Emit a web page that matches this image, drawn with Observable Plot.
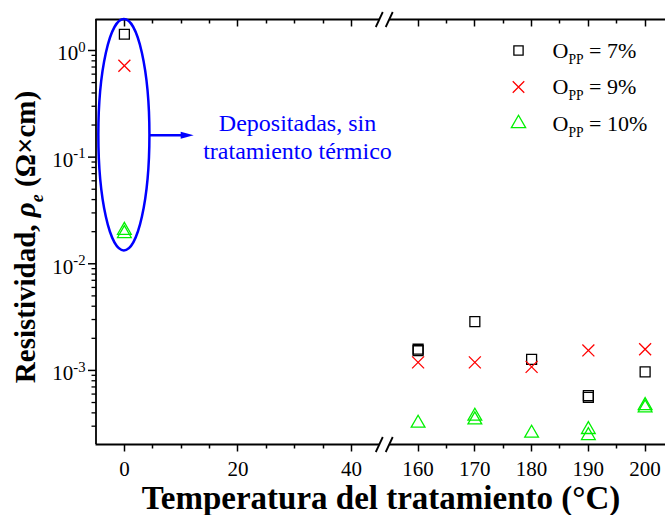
<!DOCTYPE html>
<html><head><meta charset="utf-8">
<script src="https://cdn.jsdelivr.net/npm/d3@7"></script>
<script src="https://cdn.jsdelivr.net/npm/@observablehq/plot@0.6"></script>
<style>body{margin:0;background:#fff;}</style>
</head><body><div id="chart"></div>
<script>
// ---- data ----
const xSquare = [0, 160, 160, 170, 180, 190, 190, 200];
const ySquare = [1.42, 1.58e-3, 1.53e-3, 2.87e-3, 1.27e-3, 5.8e-4, 5.6e-4, 9.7e-4];
const xCross = [0, 160, 170, 180, 190, 200];
const yCross = [0.72, 1.19e-3, 1.19e-3, 1.08e-3, 1.54e-3, 1.58e-3];
const xTri = [0, 0, 160, 170, 170, 180, 190, 190, 200, 200];
const yTri = [0.0206, 0.0192, 3.2e-4, 3.72e-4, 3.44e-4, 2.58e-4, 2.79e-4, 2.45e-4, 4.68e-4, 4.46e-4];

const seriesNames = ["O[[sub|PP]] = 7%", "O[[sub|PP]] = 9%", "O[[sub|PP]] = 10%"];
const seriesSymbols = ["square", "times", "triangle"];
const seriesColors = ["#000000", "#ff0000", "#00f000"];

const tempTicks = [0, 20, 40, 160, 170, 180, 190, 200];
const tempMinor = [5, 10, 15, 25, 30, 35, 165, 175, 185, 195];
const rhoTicks = [1e-3, 1e-2, 1e-1, 1];
const rhoTickLabels = ["10[[sup|-3]]", "10[[sup|-2]]", "10[[sup|-1]]", "10[[sup|0]]"];
const rhoMinor = [3e-4,4e-4,5e-4,6e-4,7e-4,8e-4,9e-4,
  2e-3,3e-3,4e-3,5e-3,6e-3,7e-3,8e-3,9e-3,
  2e-2,3e-2,4e-2,5e-2,6e-2,7e-2,8e-2,9e-2,
  2e-1,3e-1,4e-1,5e-1,6e-1,7e-1,8e-1,9e-1];

// broken x axis: segment [-5, 45] then [155, 205]
const segments = [[-5, 45], [155, 205]];
const breakShift = 108.25; // the right segment is slid left so the gap is ~10px
const breakT = (v) => (v >= 100 ? v - breakShift : v);
const yDomain = [2.02e-4, 1.953];

// annotation (data units)
const ellipseX = [-4.5, 4.5];
const ellipseY = [0.0132, 1.95];
const arrowX = [4.5, 12.3];
const arrowY = 0.159;
const noteX = 30.5;
const noteText = "Depositadas, sin\ntratamiento térmico";

const xLabel = "Temperatura del tratamiento (°C)";
const yLabel = "Resistividad, [[i|ρ]][[isub|e]] (Ω×cm)";

const toRows = (xs, ys) => xs.map((x, i) => ({x, y: ys[i]}));
const squares = toRows(xSquare, ySquare);
const crosses = toRows(xCross, yCross);
const tris = toRows(xTri, yTri);

const SVGNS = "http://www.w3.org/2000/svg";
function el(name, attrs) {
  const e = document.createElementNS(SVGNS, name);
  for (const k in attrs) e.setAttribute(k, attrs[k]);
  return e;
}

const annotationMark = (index, scales) => {
  const x = (v) => scales.x(breakT(v)), y = scales.y;
  const g = el("g", {});
  const cx = (x(ellipseX[0]) + x(ellipseX[1])) / 2;
  const cy = (y(ellipseY[0]) + y(ellipseY[1])) / 2;
  g.appendChild(el("ellipse", {cx, cy, rx: (x(ellipseX[1]) - x(ellipseX[0])) / 2,
    ry: (y(ellipseY[0]) - y(ellipseY[1])) / 2, fill: "none", stroke: "#0000ff", "stroke-width": 2.5}));
  const ay = y(arrowY), ax1 = x(arrowX[0]), ax2 = x(arrowX[1]);
  g.appendChild(el("line", {x1: ax1, y1: ay, x2: ax2 - 10, y2: ay, stroke: "#0000ff", "stroke-width": 2.5}));
  g.appendChild(el("path", {d: `M${ax2},${ay}L${ax2 - 13},${ay - 3.5}L${ax2 - 13},${ay + 3.5}Z`, fill: "#0000ff"}));
  return g;
};

// axis breaks (//) and x ticks (bottom outward, top inward), through the plot's scales
const breakMark = (index, scales) => {
  const x = (v) => scales.x(breakT(v)), y = scales.y;
  const g = el("g", {stroke: "black", "stroke-width": 1.8, fill: "none"});
  for (const yv of yDomain) {
    const py = y(yv) + 0.5;
    for (const xv of [segments[0][1], segments[1][0]]) {
      const px = x(xv);
      g.appendChild(el("line", {x1: px - 3.5, y1: py + 7.5, x2: px + 3.5, y2: py - 7.5}));
    }
  }
  const yb = y(yDomain[0]) + 0.5, yt = y(yDomain[1]) + 0.5;
  [[tempTicks, 7], [tempMinor, 4]].forEach(([vals, len]) => {
    vals.forEach((v) => {
      const px = Math.round(x(v)) + 0.5;
      g.appendChild(el("line", {x1: px, y1: yb, x2: px, y2: yb + len, "stroke-width": 1.5}));
      g.appendChild(el("line", {x1: px, y1: yt, x2: px, y2: yt + len, "stroke-width": 1.5}));
    });
  });
  return g;
};

const legendMarks = seriesNames.flatMap((name, i) => [
  Plot.dot([0], {frameAnchor: "top-left", dx: 422, dy: 31 + i * 36.5, symbol: seriesSymbols[i],
    r: i === 0 ? 5.2 : 5.3, stroke: seriesColors[i], strokeWidth: 1.3, fill: "none"}),
  Plot.text([name], {frameAnchor: "top-left", dx: 456, dy: 31 + i * 36.5, textAnchor: "start",
    lineAnchor: "middle", fontSize: 22})
]);

const axisLines = segments.flatMap(([a, b]) => [
  Plot.ruleY([yDomain[0]], {x1: a, x2: b, strokeWidth: 1.8}),
  Plot.ruleY([yDomain[1]], {x1: a, x2: b, strokeWidth: 1.8})
]);

const chart = Plot.plot({
  width: 665, height: 515,
  marginTop: 19, marginBottom: 71, marginLeft: 96, marginRight: 0,
  style: {fontFamily: "'Liberation Serif', 'Times New Roman', serif", fontSize: "20px", color: "black", background: "white"},
  x: {transform: breakT, domain: [segments[0][0], breakT(segments[1][1])], range: [95.5, 673]},
  y: {type: "log", domain: yDomain},
  marks: [
    ...axisLines,
    Plot.ruleX([segments[0][0]], {y1: yDomain[0], y2: yDomain[1], strokeWidth: 1.8}),
    Plot.axisX(tempTicks, {anchor: "bottom", tickSize: 0, tickPadding: 17, label: null, fontSize: 21, tickFormat: (d) => String(d)}),
    // left ticks
    Plot.axisY(rhoTicks, {anchor: "left", tickSize: 8, fill: "none", label: null, strokeWidth: 1.5}),
    Plot.axisY(rhoMinor, {anchor: "left", tickSize: 4.5, fill: "none", label: null, strokeWidth: 1.3}),
    Plot.axisY(rhoTicks, {anchor: "left", tickSize: 0, tickPadding: 11, dy: 3, label: null, fontSize: 21,
      tickFormat: (d) => rhoTickLabels[rhoTicks.indexOf(d)]}),
    breakMark,
    // data
    Plot.dot(squares, {x: "x", y: "y", symbol: seriesSymbols[0], r: 5.6, stroke: seriesColors[0], strokeWidth: 1.3, fill: "none"}),
    Plot.dot(crosses, {x: "x", y: "y", symbol: seriesSymbols[1], r: 5.5, stroke: seriesColors[1], strokeWidth: 1.3, fill: "none"}),
    Plot.dot(tris, {x: "x", y: "y", symbol: seriesSymbols[2], r: 5.1, stroke: seriesColors[2], strokeWidth: 1.3, fill: "none"}),
    // annotation
    annotationMark,
    Plot.text([noteText], {x: noteX, y: arrowY, fill: "#0000ff", fontSize: 24, lineHeight: 1.17, textAnchor: "middle", lineAnchor: "middle"}),
    // legend
    ...legendMarks,
    // axis labels
    Plot.text([xLabel], {frameAnchor: "bottom", dy: 64, lineAnchor: "bottom", textAnchor: "middle", fontSize: 33, fontWeight: "bold"}),
    Plot.text([yLabel], {frameAnchor: "left", dx: -62, dy: 5, rotate: -90, lineAnchor: "bottom", textAnchor: "middle", fontSize: 29, fontWeight: "bold"})
  ]
});

document.getElementById("chart").appendChild(chart);

// rich text: [[style|text]] -> tspans
function richify(svg) {
  svg.querySelectorAll("text").forEach(t => {
    const s = t.textContent;
    if (!s.includes("[[")) return;
    const fs = parseFloat(getComputedStyle(t).fontSize);
    const parts = s.split(/\[\[(\w+)\|([^\]]*)\]\]/);
    t.textContent = "";
    let shift = 0;
    for (let i = 0; i < parts.length; i++) {
      let style = "plain", txt = parts[i];
      if (i % 3 === 1) { style = parts[i]; txt = parts[i + 1]; i++; }
      if (!txt) continue;
      const ts = document.createElementNS(SVGNS, "tspan");
      let target = 0;
      if (style === "sub" || style === "isub") { target = 0.28 * fs; ts.setAttribute("font-size", 0.62 * fs); }
      if (style === "sup") { target = -0.4 * fs; ts.setAttribute("font-size", 0.7 * fs); }
      if (style === "i" || style === "isub") ts.setAttribute("font-style", "italic");
      if (target !== shift) ts.setAttribute("dy", target - shift);
      shift = target;
      ts.textContent = txt;
      t.appendChild(ts);
    }
  });
}
richify(chart);
</script>
</body></html>
